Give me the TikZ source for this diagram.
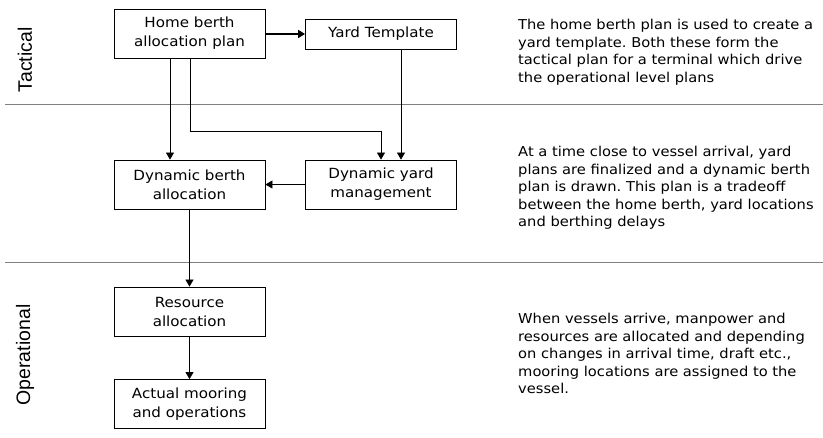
\documentclass[tikz,border=0pt]{standalone}
\usepackage{fontspec}
\setmainfont{DejaVu Sans}[FakeStretch=1.08]
\newfontfamily\sidefont{Liberation Sans}
\frenchspacing
\usetikzlibrary{arrows.meta}
\tikzset{
  stage/.style={draw, line width=0.8pt, minimum width=151pt, minimum height=49pt,
    inner sep=0pt, align=center, font=\fontsize{14}{19}\selectfont},
  level/.style={rotate=90, font=\sidefont\fontsize{19.5}{22}\selectfont},
  note/.style={anchor=north west, align=left, inner sep=0pt,
    font=\fontsize{13.6}{17.5}\selectfont},
  divider/.style={draw=black!50, line width=1pt},
  flow/.style={-{Triangle[length=7pt,width=8pt]}, line width=0.7pt}
}
\begin{document}
\begin{tikzpicture}[x=1pt,y=-1pt]
      \useasboundingbox (0,0) rectangle (823,438);
      \draw[divider] (5,105) -- (823,105);
      \draw[divider] (5,263) -- (823,263);
      \draw
        (25,60) node[level] (tac){Tactical}
        (25,355) node[level] (ops){Operational};
      \draw
        (189.5,33.5) node[stage] (hbap){Home berth\\allocation plan}
        (381,34) node[stage, minimum height=30pt] (yt){Yard Template}
        (189.5,184.5) node[stage] (dba){Dynamic berth\\allocation}
        (381,184.5) node[stage] (dym){Dynamic yard\\management}
        (189.5,311.5) node[stage] (ra){Resource\\allocation}
        (189.5,404) node[stage] (amo){Actual mooring\\and operations};
      \draw
        (518,19) node[note] (n1){The home berth plan is used to create a\\yard template. Both these form the\\tactical plan for a terminal which drive\\the operational level plans}
        (518,146) node[note] (n2){At a time close to vessel arrival, yard\\plans are finalized and a dynamic berth\\plan is drawn. This plan is a tradeoff\\between the home berth, yard locations\\and berthing delays}
        (518,313) node[note] (n3){When vessels arrive, manpower and\\resources are allocated and depending\\on changes in arrival time, draft etc.,\\mooring locations are assigned to the\\vessel.};
      \begin{scope}[flow]
        \draw[line width=1.6pt] (hbap.east |- yt) -- (yt.west);
        \draw (hbap.south -| 170,0) -- (dba.north -| 170,0);
        \draw (hbap.south -| 190,0) |- (381,131) -- (dym.north);
        \draw (yt.south -| 401,0) -- (dym.north -| 401,0);
        \draw (dym.west) -- (dba.east);
        \draw (dba.south) -- (ra.north);
        \draw (ra.south) -- (amo.north);
      \end{scope}
    \end{tikzpicture}
\end{document}
